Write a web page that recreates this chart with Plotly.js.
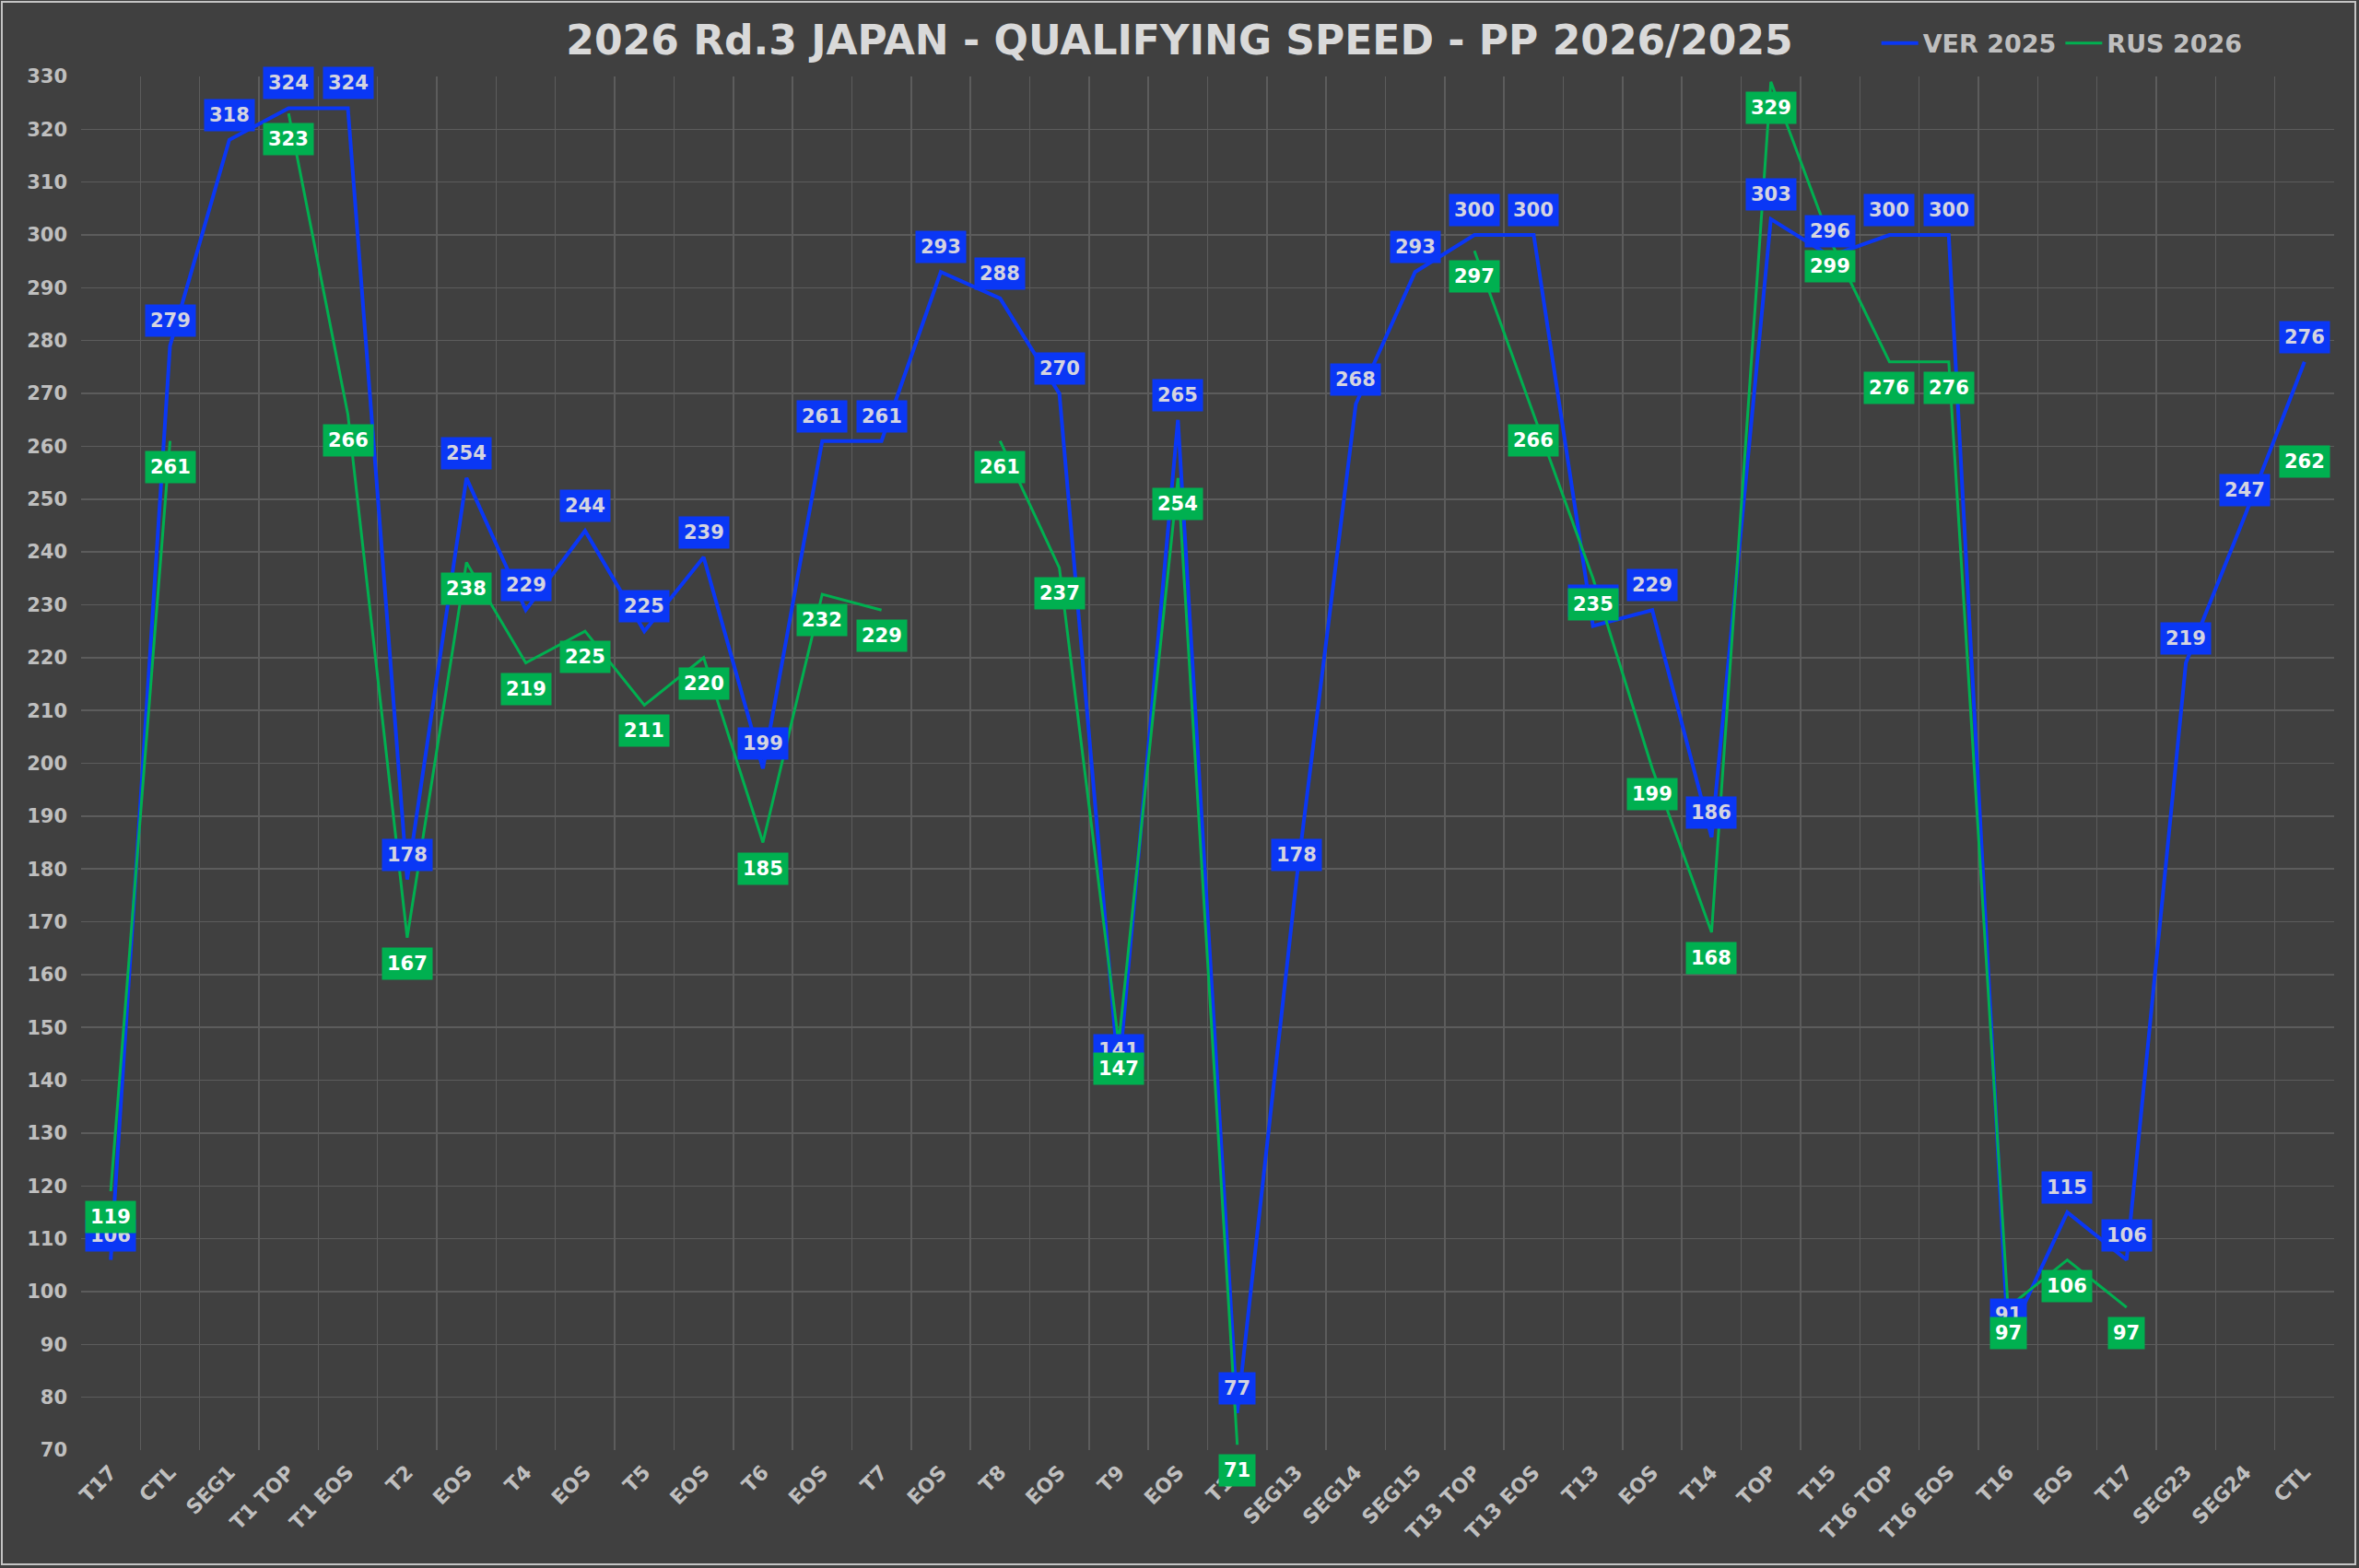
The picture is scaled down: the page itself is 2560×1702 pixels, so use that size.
<!DOCTYPE html>
<html>
<head>
<meta charset="utf-8">
<script src="https://cdn.plot.ly/plotly-3.0.1.min.js"></script>
<style>
  html, body { margin: 0; padding: 0; background: #ffffff; }
  #chart { position: absolute; left: 0; top: 0; width: 2560px; height: 1702px; }
  #frame { position: absolute; left: 1px; top: 1px; width: 2556px; height: 1698px;
           box-sizing: border-box; border: 2px solid #c4c4c4; pointer-events: none; }
</style>
</head>
<body>
<div id="chart"></div>
<div id="frame"></div>
<script>
// ---- data ----
const categories = ["T17","CTL","SEG1","T1 TOP","T1 EOS","T2","EOS","T4","EOS","T5","EOS","T6","EOS","T7","EOS","T8","EOS","T9","EOS","T11","SEG13","SEG14","SEG15","T13 TOP","T13 EOS","T13","EOS","T14","TOP","T15","T16 TOP","T16 EOS","T16","EOS","T17","SEG23","SEG24","CTL"];
const ver2025 = [106,279,318,324,324,178,254,229,244,225,239,199,261,261,293,288,270,141,265,77,178,268,293,300,300,226,229,186,303,296,300,300,91,115,106,219,247,276];
const rus2026 = [119,261,null,323,266,167,238,219,225,211,220,185,232,229,null,261,237,147,254,71,null,null,null,297,266,235,199,168,329,299,276,276,97,106,97,null,null,262];
const seriesNames = ["VER 2025","RUS 2026"];
const yTicks = [70,80,90,100,110,120,130,140,150,160,170,180,190,200,210,220,230,240,250,260,270,280,290,300,310,320,330];

// ---- styling ----
const BLUE = "#0a37f5", GREEN = "#00b050";
const FONT = "DejaVu Sans";
const xIdx = categories.map((c, i) => i);

const traces = [
  { x: xIdx, y: ver2025, name: seriesNames[0], type: "scatter", mode: "lines",
    line: { color: BLUE, width: 4 }, connectgaps: false },
  { x: xIdx, y: rus2026, name: seriesNames[1], type: "scatter", mode: "lines",
    line: { color: GREEN, width: 3 }, connectgaps: false }
];

function labels(vals, bg, fg, shift) {
  const out = [];
  vals.forEach((v, i) => {
    if (v === null) return;
    out.push({ x: i, y: v, xref: "x", yref: "y", text: String(v), showarrow: false,
      yshift: shift, bgcolor: bg, borderpad: 5,
      font: { family: FONT, size: 21, color: fg, weight: "bold" } });
  });
  return out;
}
const annotations = labels(ver2025, BLUE, "#d4d4e0", 27).concat(labels(rus2026, GREEN, "#ffffff", -28));

const layout = {
  width: 2560, height: 1702,
  paper_bgcolor: "#404040", plot_bgcolor: "#404040",
  margin: { l: 88, r: 27, t: 83, b: 128 },
  font: { family: FONT, color: "#bfbfbf", weight: "bold" },
  title: { text: "2026 Rd.3 JAPAN - QUALIFYING SPEED - PP 2026/2025",
    font: { family: FONT, size: 44, color: "#d9d9d9", weight: "bold" },
    x: 0.5, xref: "container", xanchor: "center", y: 1 - 44 / 1702, yref: "container", yanchor: "middle" },
  showlegend: true,
  legend: { orientation: "h", x: 0.797, xanchor: "left", y: 1.024, yanchor: "middle",
    font: { family: FONT, size: 27, color: "#bfbfbf", weight: "bold" },
    bgcolor: "rgba(0,0,0,0)", itemwidth: 40, tracegroupgap: 0 },
  xaxis: {
    range: [-0.5, categories.length - 0.5],
    tickmode: "array", tickvals: xIdx, ticktext: categories,
    tickangle: -45, showgrid: false, zeroline: false, showline: false,
    ticks: "", ticklabelstandoff: 6,
    tickfont: { family: FONT, size: 22, color: "#bfbfbf", weight: "bold" },
    minor: { tickmode: "array", tickvals: xIdx.map(i => i - 0.5).concat([categories.length - 0.5]),
      showgrid: true, gridcolor: "#5c5c5c", gridwidth: 1.5, ticks: "" }
  },
  yaxis: {
    range: [70, 330], tickmode: "array", tickvals: yTicks,
    showgrid: true, gridcolor: "#5c5c5c", gridwidth: 1.5,
    zeroline: false, showline: false, ticks: "", ticklabelstandoff: 14,
    tickfont: { family: FONT, size: 21, color: "#bfbfbf", weight: "bold" }
  },
  annotations: annotations
};

Plotly.newPlot("chart", traces, layout, { displayModeBar: false, staticPlot: true });
</script>
</body>
</html>
